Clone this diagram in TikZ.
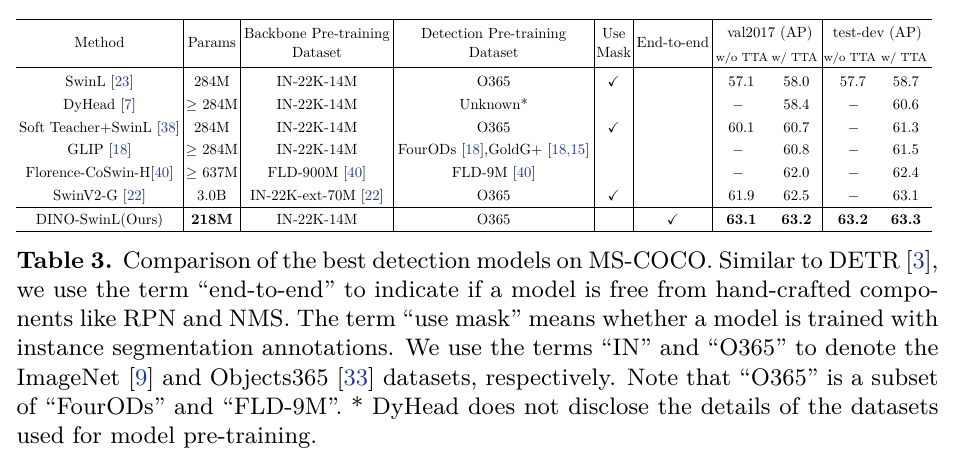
\documentclass[tikz,border=0pt]{standalone}
\usepackage{amssymb}
\usepackage{graphicx}
\usepackage{xcolor}
\definecolor{citeblue}{RGB}{35,55,150}
\newcommand{\ct}[1]{[\textcolor{citeblue}{#1}]}
\newcommand{\sx}[1]{\scalebox{0.5556}{#1}}
\newcommand{\sxs}[1]{\scalebox{0.5556}{\fontsize{8}{9.5}\selectfont #1}}
\newcommand{\nd}{\sx{$-$}}
\begin{document}
\begin{tikzpicture}[x=0.3764pt,y=-0.3764pt,
  cell/.style={anchor=base,inner sep=0pt,font=\fontsize{10}{12}\selectfont},
  capline/.style={anchor=base west,inner sep=0pt,font=\fontsize{9}{11}\selectfont},
  heavyrule/.style={line width=0.55pt},
  lightrule/.style={line width=0.42pt},
  vrule/.style={line width=0.3pt}]
\useasboundingbox[fill=white] (0,0) rectangle (956,458);
% rules
\draw[heavyrule] (16,19.3) -- (932,19.3);
\draw[lightrule] (16,67.7) -- (932,67.7);
\draw[lightrule] (16,207.7) -- (932,207.7);
\draw[heavyrule] (16,231.7) -- (932,231.7);
\foreach \x in {183,240.7,393.3,594,633.5,712.3,822.7} \draw[vrule] (\x,19.3) -- (\x,231.7);
% header
\node[cell] (hm) at (99.5,47.7) {\sx{Method}};
\node[cell] (hp) at (211.9,47.7) {\sx{Params}};
\node[cell] (hb1) at (317,38) {\sx{Backbone Pre-training}};
\node[cell] (hb2) at (317,57) {\sx{Dataset}};
\node[cell] (hd1) at (493.7,38) {\sx{Detection Pre-training}};
\node[cell] (hd2) at (493.7,57) {\sx{Dataset}};
\node[cell] (hu1) at (613.8,38) {\sx{Use}};
\node[cell] (hu2) at (613.8,57) {\sx{Mask}};
\node[cell] (he) at (672.9,47.7) {\sx{End-to-end}};
\node[cell] (hv) at (770,37) {\sx{val2017 (AP)}};
\node[cell] (ht) at (877.4,37) {\sx{test-dev (AP)}};
\node[cell] (hva) at (742,61.7) {\sxs{w/o TTA}};
\node[cell] (hvb) at (794.5,61.7) {\sxs{w/ TTA}};
\node[cell] (hta) at (850,61.7) {\sxs{w/o TTA}};
\node[cell] (htb) at (904,61.7) {\sxs{w/ TTA}};
% row 1
\node[cell] (m1) at (99.5,86.7) {\sx{SwinL \ct{23}}};
\node[cell] (p1) at (211.9,86.7) {\sx{284M}};
\node[cell] (b1) at (317,86.7) {\sx{IN-22K-14M}};
\node[cell] (d1) at (493.7,86.7) {\sx{O365}};
\node[cell] (u1) at (613.8,86.7) {\sx{$\checkmark$}};
\node[cell] (va1) at (741.5,86.7) {\sx{57.1}};
\node[cell] (vb1) at (796.5,86.7) {\sx{58.0}};
\node[cell] (ta1) at (853,86.7) {\sx{57.7}};
\node[cell] (tb1) at (906,86.7) {\sx{58.7}};
% row 2
\node[cell] (m2) at (99.5,109.3) {\sx{DyHead \ct{7}}};
\node[cell] (p2) at (211.9,109.3) {\sx{$\geq$ 284M}};
\node[cell] (b2) at (317,109.3) {\sx{IN-22K-14M}};
\node[cell] (d2) at (493.7,109.3) {\sx{Unknown*}};
\node[cell] (va2) at (738,109.3) {\nd};
\node[cell] (vb2) at (796.5,109.3) {\sx{58.4}};
\node[cell] (ta2) at (853.5,109.3) {\nd};
\node[cell] (tb2) at (906,109.3) {\sx{60.6}};
% row 3
\node[cell] (m3) at (99.5,132) {\sx{Soft Teacher+SwinL \ct{38}}};
\node[cell] (p3) at (211.9,132) {\sx{284M}};
\node[cell] (b3) at (317,132) {\sx{IN-22K-14M}};
\node[cell] (d3) at (493.7,132) {\sx{O365}};
\node[cell] (u3) at (613.8,132) {\sx{$\checkmark$}};
\node[cell] (va3) at (741.5,132) {\sx{60.1}};
\node[cell] (vb3) at (796.5,132) {\sx{60.7}};
\node[cell] (ta3) at (853.5,132) {\nd};
\node[cell] (tb3) at (906,132) {\sx{61.3}};
% row 4
\node[cell] (m4) at (99.5,154.6) {\sx{GLIP \ct{18}}};
\node[cell] (p4) at (211.9,154.6) {\sx{$\geq$ 284M}};
\node[cell] (b4) at (317,154.6) {\sx{IN-22K-14M}};
\node[cell] (d4) at (493.7,154.6) {\sx{FourODs \ct{18},GoldG+ \ct{18,15}}};
\node[cell] (va4) at (738,154.6) {\nd};
\node[cell] (vb4) at (796.5,154.6) {\sx{60.8}};
\node[cell] (ta4) at (853.5,154.6) {\nd};
\node[cell] (tb4) at (906,154.6) {\sx{61.5}};
% row 5
\node[cell] (m5) at (99.5,177.3) {\sx{Florence-CoSwin-H\ct{40}}};
\node[cell] (p5) at (211.9,177.3) {\sx{$\geq$ 637M}};
\node[cell] (b5) at (317,177.3) {\sx{FLD-900M \ct{40}}};
\node[cell] (d5) at (493.7,177.3) {\sx{FLD-9M \ct{40}}};
\node[cell] (va5) at (738,177.3) {\nd};
\node[cell] (vb5) at (796.5,177.3) {\sx{62.0}};
\node[cell] (ta5) at (853.5,177.3) {\nd};
\node[cell] (tb5) at (906,177.3) {\sx{62.4}};
% row 6
\node[cell] (m6) at (99.5,200) {\sx{SwinV2-G \ct{22}}};
\node[cell] (p6) at (211.9,200) {\sx{3.0B}};
\node[cell] (b6) at (317,200) {\sx{IN-22K-ext-70M \ct{22}}};
\node[cell] (d6) at (493.7,200) {\sx{O365}};
\node[cell] (u6) at (613.8,200) {\sx{$\checkmark$}};
\node[cell] (va6) at (741.5,200) {\sx{61.9}};
\node[cell] (vb6) at (796.5,200) {\sx{62.5}};
\node[cell] (ta6) at (853.5,200) {\nd};
\node[cell] (tb6) at (906,200) {\sx{63.1}};
% row 7
\node[cell] (m7) at (99.5,224.5) {\sx{DINO-SwinL(Ours)}};
\node[cell] (p7) at (211.9,224.5) {\sx{\textbf{218M}}};
\node[cell] (b7) at (317,224.5) {\sx{IN-22K-14M}};
\node[cell] (d7) at (493.7,224.5) {\sx{O365}};
\node[cell] (e7) at (672.9,224.5) {\sx{$\checkmark$}};
\node[cell] (va7) at (741.5,224.5) {\sx{\textbf{63.1}}};
\node[cell] (vb7) at (796.5,224.5) {\sx{\textbf{63.2}}};
\node[cell] (ta7) at (853,224.5) {\sx{\textbf{63.2}}};
\node[cell] (tb7) at (906,224.5) {\sx{\textbf{63.3}}};
% caption
\node[capline] (c1) at (16,268.3) {\makebox[347.04pt][s]{\textbf{Table 3.} Comparison of the best detection models on MS-COCO. Similar to DETR \ct{3},}};
\node[capline] (c2) at (16,297.5) {\makebox[347.04pt][s]{we use the term “end-to-end” to indicate if a model is free from hand-crafted compo-}};
\node[capline] (c3) at (16,326.7) {\makebox[347.04pt][s]{nents like RPN and NMS. The term “use mask” means whether a model is trained with}};
\node[capline] (c4) at (16,355.9) {\makebox[347.04pt][s]{instance segmentation annotations. We use the terms “IN” and “O365” to denote the}};
\node[capline] (c5) at (16,385.1) {\makebox[347.04pt][s]{ImageNet \ct{9} and Objects365 \ct{33} datasets, respectively. Note that “O365” is a subset}};
\node[capline] (c6) at (16,414.3) {\makebox[347.04pt][s]{of “FourODs” and “FLD-9M”. * DyHead does not disclose the details of the datasets}};
\node[capline] (c7) at (16,443.5) {used for model pre-training.};
\end{tikzpicture}
\end{document}
